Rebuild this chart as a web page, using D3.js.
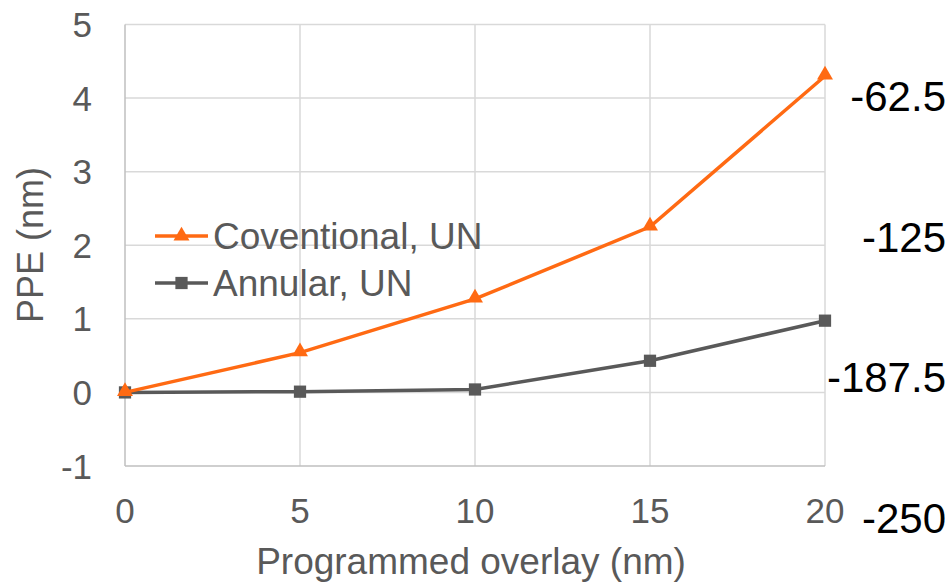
<!DOCTYPE html>
<html>
<head>
<meta charset="utf-8">
<script src="https://cdn.jsdelivr.net/npm/d3@7"></script>
<style>
  html, body { margin: 0; padding: 0; background: #fff; }
  svg { display: block; }
  text { font-family: "Liberation Sans", Arial, sans-serif; }
</style>
</head>
<body>
<svg id="chart" width="945" height="583"></svg>
<script>
// Programmed overlay (nm)
const overlay = [0, 5, 10, 15, 20];
// PPE (nm) for each illumination mode
const conventional = [0, 0.54, 1.27, 2.25, 4.3];
const annular = [0, 0.01, 0.04, 0.43, 0.975];
const seriesNames = ["Coventional, UN", "Annular, UN"];
const yTicks = [-1, 0, 1, 2, 3, 4, 5];
const xTicks = [0, 5, 10, 15, 20];
// Secondary scale labels on the right
const rightLabels = [-62.5, -125, -187.5, -250];

const svg = d3.select("#chart");
const W = 945, H = 583;
const m = { left: 125, right: 120, top: 24.5, bottom: 117 };

const x = d3.scaleLinear().domain([0, 20]).range([m.left, W - m.right]);
const y = d3.scaleLinear().domain([-1, 5]).range([H - m.bottom, m.top]);

const gridColor = "#d9d9d9";
const axisColor = "#bfbfbf";
const textColor = "#595959";
const orange = "#ff6a13";
const grey = "#595959";

// horizontal gridlines
svg.append("g").selectAll("line")
  .data(yTicks.filter(d => d !== -1))
  .join("line")
  .attr("x1", x(0)).attr("x2", x(20))
  .attr("y1", d => y(d)).attr("y2", d => y(d))
  .attr("stroke", gridColor).attr("stroke-width", 1.5);

// vertical gridlines
svg.append("g").selectAll("line")
  .data(xTicks.filter(d => d !== 0))
  .join("line")
  .attr("x1", d => x(d)).attr("x2", d => x(d))
  .attr("y1", y(5)).attr("y2", y(-1))
  .attr("stroke", gridColor).attr("stroke-width", 1.5);

// axis lines
svg.append("line")
  .attr("x1", x(0)).attr("x2", x(0)).attr("y1", y(5)).attr("y2", y(-1))
  .attr("stroke", axisColor).attr("stroke-width", 1.5);
svg.append("line")
  .attr("x1", x(0)).attr("x2", x(20)).attr("y1", y(-1)).attr("y2", y(-1))
  .attr("stroke", axisColor).attr("stroke-width", 1.5);

// y tick labels
svg.append("g").selectAll("text")
  .data(yTicks)
  .join("text")
  .attr("x", 92)
  .attr("y", d => y(d) + 12.5)
  .attr("text-anchor", "end")
  .attr("font-size", 35)
  .attr("fill", textColor)
  .text(d => d);

// x tick labels
svg.append("g").selectAll("text")
  .data(xTicks)
  .join("text")
  .attr("x", d => x(d))
  .attr("y", 523)
  .attr("text-anchor", "middle")
  .attr("font-size", 35)
  .attr("fill", textColor)
  .text(d => d);

// axis titles
svg.append("text")
  .attr("x", (x(0) + x(20)) / 2 - 4)
  .attr("y", 574)
  .attr("text-anchor", "middle")
  .attr("font-size", 37)
  .attr("fill", textColor)
  .text("Programmed overlay (nm)");

svg.append("text")
  .attr("transform", "translate(43,245) rotate(-90)")
  .attr("text-anchor", "middle")
  .attr("font-size", 36)
  .attr("fill", textColor)
  .text("PPE (nm)");

// series
const line = d3.line().x((d, i) => x(overlay[i])).y(d => y(d));
const tri = d3.symbol().type(d3.symbolTriangle).size(110);
const sq = d3.symbol().type(d3.symbolSquare).size(150);

svg.append("path").datum(annular)
  .attr("d", line).attr("fill", "none")
  .attr("stroke", grey).attr("stroke-width", 3.5);
svg.append("g").selectAll("path")
  .data(annular).join("path")
  .attr("d", sq)
  .attr("transform", (d, i) => `translate(${x(overlay[i])},${y(d)})`)
  .attr("fill", grey);

svg.append("path").datum(conventional)
  .attr("d", line).attr("fill", "none")
  .attr("stroke", orange).attr("stroke-width", 3.5);
svg.append("g").selectAll("path")
  .data(conventional).join("path")
  .attr("d", tri)
  .attr("transform", (d, i) => `translate(${x(overlay[i])},${y(d) - 1})`)
  .attr("fill", orange);

// legend
const legend = [
  { name: seriesNames[0], color: orange, sym: tri, cy: 236 },
  { name: seriesNames[1], color: grey, sym: sq, cy: 283 }
];
const lg = svg.append("g").selectAll("g").data(legend).join("g")
  .attr("transform", d => `translate(0,${d.cy})`);
lg.append("line")
  .attr("x1", 155).attr("x2", 208).attr("y1", 0).attr("y2", 0)
  .attr("stroke", d => d.color).attr("stroke-width", 3.5);
lg.append("path")
  .attr("d", d => d.sym())
  .attr("transform", "translate(181.5,0)")
  .attr("fill", d => d.color);
lg.append("text")
  .attr("x", 213)
  .attr("y", 13)
  .attr("font-size", 37)
  .attr("fill", textColor)
  .text(d => d.name);

// right-hand scale labels
const yr = d3.scaleLinear().domain([-62.5, -250]).range([96, 518]);
svg.append("g").selectAll("text")
  .data(rightLabels)
  .join("text")
  .attr("x", 946)
  .attr("y", d => yr(d) + 15)
  .attr("text-anchor", "end")
  .attr("font-family", "Carlito, Lato, 'Open Sans', sans-serif")
  .attr("font-size", 42)
  .attr("fill", "#000")
  .text(d => d);
</script>
</body>
</html>
